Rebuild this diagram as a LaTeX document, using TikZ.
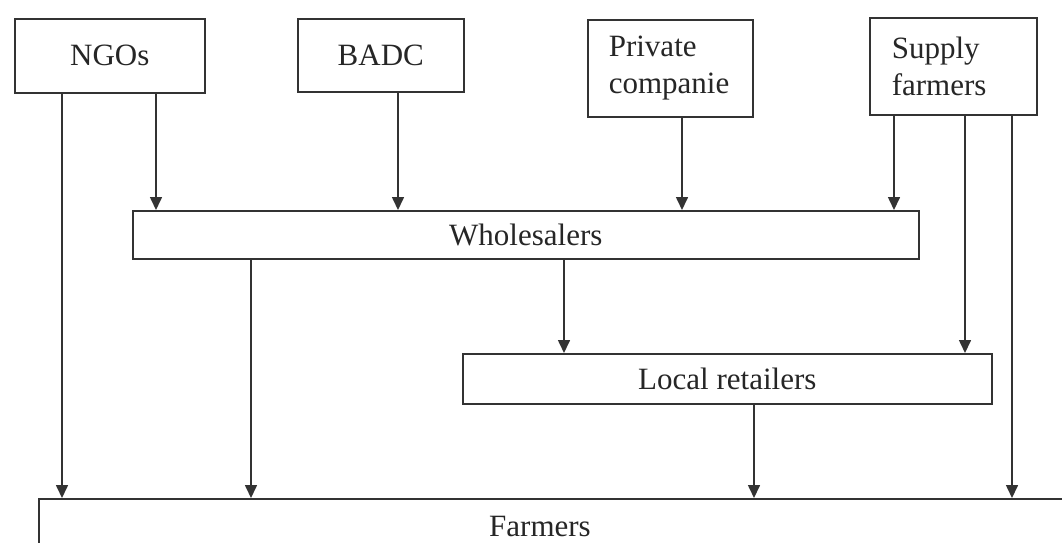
\documentclass[tikz,border=0pt]{standalone}
\usepackage{fontspec}
\setmainfont{Liberation Serif}
\usetikzlibrary{positioning,arrows.meta,calc}

\begin{document}
\begin{tikzpicture}[
         x=1pt, y=-1pt,
         box/.style = {draw=black!80, line width=1.6pt, anchor=north west,
         inner sep=0pt, font=\fontsize{31}{37}\selectfont, text=black!85},
         flow/.style = {draw=black!80, line width=1.6pt,
         -{Triangle[length=13pt,width=12pt]}}
]
      \useasboundingbox[fill=white] (0,0) rectangle (1062,542);

      % sources
      \node[box, minimum width=190pt, minimum height=74pt] (ngo) at (14,18) {NGOs};
      \node[box, minimum width=166pt, minimum height=73pt] (badc) at (297,18) {BADC};
      \node[box, minimum width=165pt, minimum height=97pt, text width=123pt,
         align=left] (priv) at (587,19) {Private\\companie};
      \node[box, minimum width=167pt, minimum height=97pt, text width=123pt,
         align=left] (supply) at (869,17) {Supply\\farmers};

      % middle levels
      \node[box, minimum width=786pt, minimum height=48pt] (whole) at (132,210) {Wholesalers};
      \node[box, minimum width=529pt, minimum height=50pt] (local) at (462,353) {Local retailers};

      % farmers
      \node[box, minimum width=1060pt, minimum height=70pt] (farmers) at (38,498) {};
      \node[font=\fontsize{31}{37}\selectfont, text=black!85] (farmtxt) at (540,526) {Farmers};

      % links
      \draw[flow] ([xshift=48pt]ngo.south west) -- ([xshift=48pt]ngo.south west |- farmers.north);
      \draw[flow] ([xshift=142pt]ngo.south west) -- ([xshift=142pt]ngo.south west |- whole.north);
      \draw[flow] ([xshift=101pt]badc.south west) -- ([xshift=101pt]badc.south west |- whole.north);
      \draw[flow] ([xshift=95pt]priv.south west) -- ([xshift=95pt]priv.south west |- whole.north);
      \draw[flow] ([xshift=25pt]supply.south west) -- ([xshift=25pt]supply.south west |- whole.north);
      \draw[flow] ([xshift=96pt]supply.south west) -- ([xshift=96pt]supply.south west |- local.north);
      \draw[flow] ([xshift=143pt]supply.south west) -- ([xshift=143pt]supply.south west |- farmers.north);
      \draw[flow] ([xshift=119pt]whole.south west) -- ([xshift=119pt]whole.south west |- farmers.north);
      \draw[flow] ([xshift=432pt]whole.south west) -- ([xshift=432pt]whole.south west |- local.north);
      \draw[flow] ([xshift=292pt]local.south west) -- ([xshift=292pt]local.south west |- farmers.north);
\end{tikzpicture}
\end{document}
